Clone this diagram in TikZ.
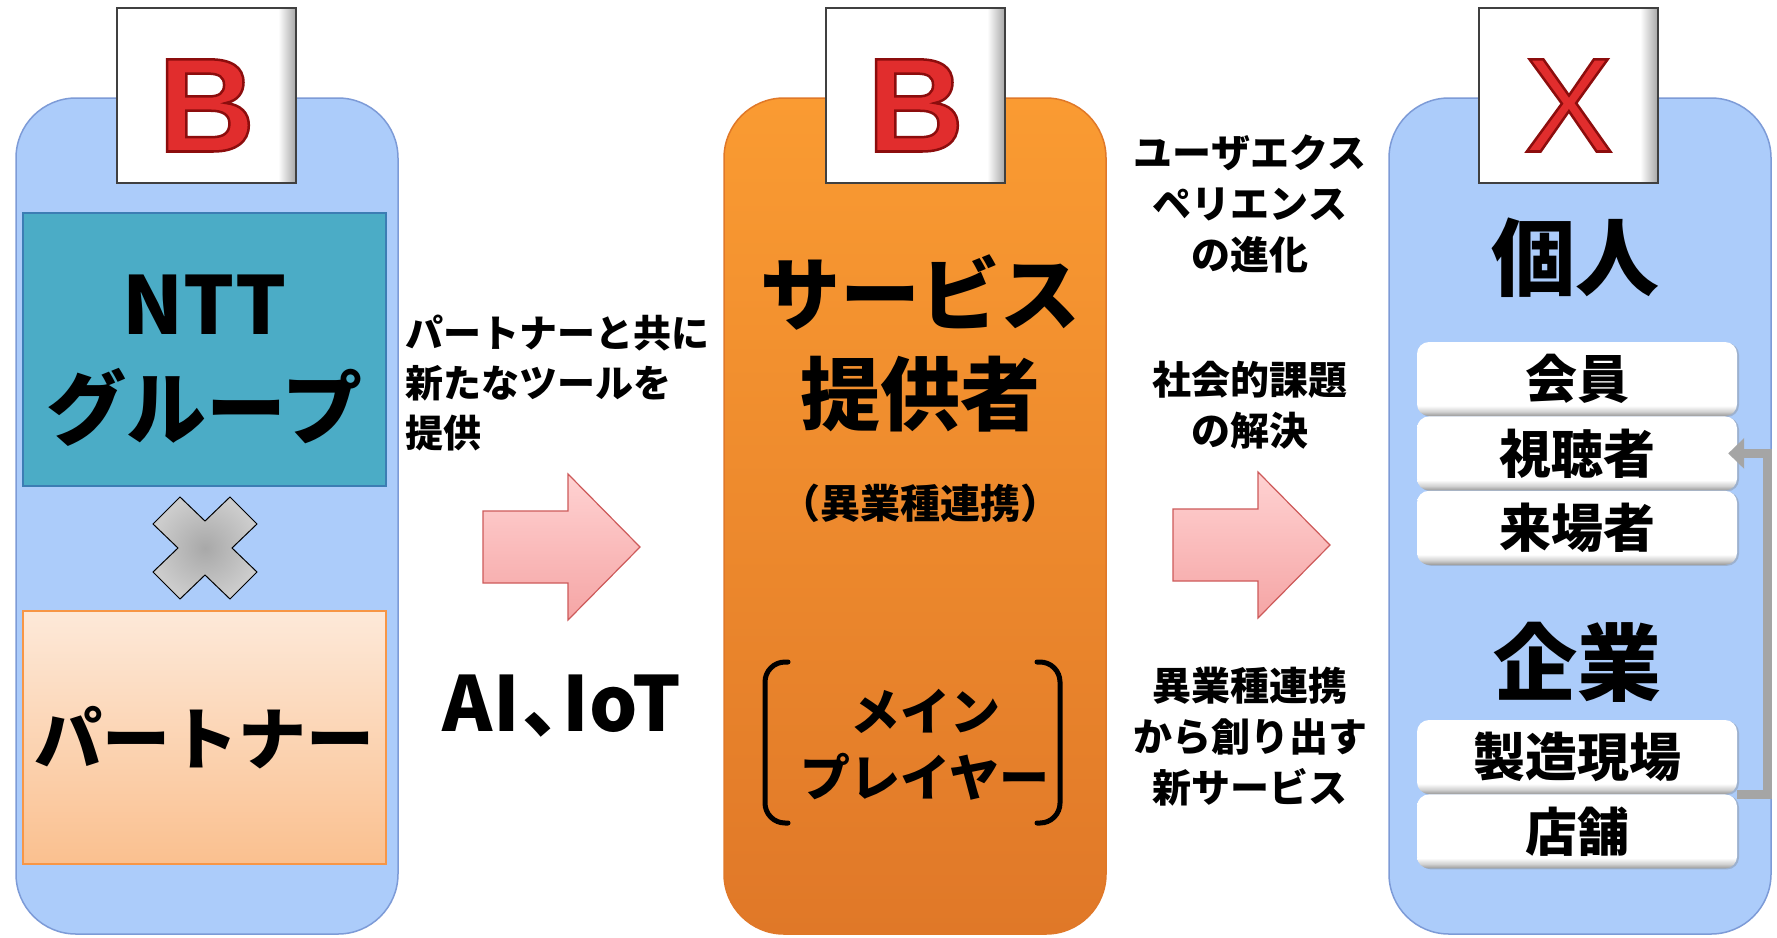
\documentclass[tikz,border=0pt]{standalone}
\usepackage{fontspec}
\setmainfont{Noto Sans CJK JP}
\newfontfamily\letterfont{Liberation Sans}
\usetikzlibrary{positioning,arrows.meta,shadows}
\definecolor{panelblue}{RGB}{172,204,250}
\definecolor{paneledge}{RGB}{125,155,215}
\definecolor{nttteal}{RGB}{75,172,198}
\definecolor{nttedge}{RGB}{60,125,180}
\definecolor{peachtop}{RGB}{253,233,217}
\definecolor{peachbot}{RGB}{250,192,143}
\definecolor{peachedge}{RGB}{247,150,70}
\definecolor{orangetop}{RGB}{250,155,50}
\definecolor{orangebot}{RGB}{224,120,40}
\definecolor{arrowpink}{RGB}{255,210,210}
\definecolor{arrowpinkdark}{RGB}{245,165,165}
\definecolor{arrowedge}{RGB}{205,90,90}
\definecolor{letterred}{RGB}{225,45,45}
\definecolor{linkgray}{RGB}{165,165,165}
\pgfdeclareverticalshading{boxshade}{100bp}{color(0bp)=(black!40); color(25bp)=(black!40); color(28bp)=(black!18); color(32bp)=(white); color(100bp)=(white)}
\pgfdeclarehorizontalshading{tagshade}{100bp}{color(0bp)=(white); color(70bp)=(white); color(75bp)=(black!35); color(100bp)=(black!35)}
\newcommand\redletter[1]{\special{pdf:literal direct 2 Tr 2.5 w 0.55 0.05 0.05 RG}#1\special{pdf:literal direct 0 Tr}}

\begin{document}
\begin{tikzpicture}[x=1pt, y=-1pt,
  panel/.style={rounded corners=60pt, minimum width=382pt, minimum height=836pt, inner sep=0pt, line width=1.5pt},
  tag/.style={shading=tagshade, draw=black!75, line width=1.2pt, minimum width=179pt, minimum height=175pt, inner sep=0pt, text height=112pt, text depth=0pt, font=\letterfont\fontsize{134}{134}\selectfont, text=letterred},
  item/.style={rounded corners=12pt, shading=boxshade, minimum width=320pt, minimum height=74pt, inner sep=0pt, drop shadow={shadow xshift=2pt, shadow yshift=-1pt, opacity=0.35}, font=\bfseries\fontsize{52}{52}\selectfont},
  heading/.style={font=\bfseries\fontsize{84}{84}\selectfont},
  note/.style={align=center, inner sep=0pt, font=\bfseries\fontsize{39}{51}\selectfont},
  bigarrow/.style={draw=arrowedge, line width=1.2pt, top color=arrowpink, bottom color=arrowpinkdark},
  link/.style={draw=linkgray, line width=9pt, -{Triangle[length=16pt,width=30pt]}},
  bracket/.style={line width=5pt, rounded corners=20pt, line cap=round}
]
\useasboundingbox (0,0) rectangle (1777,937);
\fill[white] (0,0) rectangle (1777,937);

\node[panel, fill=panelblue, draw=paneledge] (leftpanel) at (207,516) {};
\node[panel, top color=orangetop, bottom color=orangebot, draw=orangebot] (midpanel) at (915,516) {};
\node[panel, fill=panelblue, draw=paneledge] (rightpanel) at (1580,516) {};

\node[tag] (tagleft) at (206.5,95.5) {\redletter{\textbf{B}}};
\node[tag] (tagmid) at (915.5,95.5) {\redletter{\textbf{B}}};
\node[tag] (tagright) at (1568.5,95.5) {\redletter{X}};

\node[draw=nttedge, fill=nttteal, line width=1.5pt, minimum width=363pt, minimum height=273pt] (ntt) at (204.5,349.5) {};
\node[align=center, font=\bfseries\fontsize{80}{104}\selectfont] (ntttext) at (204.5,361) {NTT\\グループ};
\draw[shift={(205,548)}, inner color=black!34, outer color=black!20, draw=black, line width=1pt]
  (0,-27) -- (25,-51) -- (52,-24) -- (27,0) -- (52,24) -- (25,51) -- (0,27)
  -- (-25,51) -- (-52,24) -- (-27,0) -- (-52,-24) -- (-25,-51) -- cycle;
\node[draw=peachedge, top color=peachtop, bottom color=peachbot, line width=1.5pt, minimum width=363pt, minimum height=253pt, font=\bfseries\fontsize{68}{68}\selectfont] (partner) at (204.5,737.5) {パートナー};

\node[note, align=left, anchor=west, font=\bfseries\fontsize{38}{50}\selectfont] (tooltext) at (405,383) {パートナーと共に\\新たなツールを\\提供};
\foreach \ax/\ay in {483/547, 1173/545}
  \draw[bigarrow] (\ax,\ay-36) -- (\ax+85,\ay-36) -- (\ax+85,\ay-73) -- (\ax+157,\ay)
    -- (\ax+85,\ay+73) -- (\ax+85,\ay+36) -- (\ax,\ay+36) -- cycle;
\node[font=\bfseries\fontsize{76}{76}\selectfont] (aiiot) at (562,706) {AI\kern3pt、\kern-36pt IoT};

\node[align=center, font=\bfseries\fontsize{80}{100}\selectfont] (provider) at (920,343) {サービス\\提供者};
\node[font=\bfseries\fontsize{40}{40}\selectfont] (alliance) at (920,503) {（異業種連携）};
\node[align=center, font=\bfseries\fontsize{50}{66}\selectfont] (mainplayer) at (925,745) {メイン\\プレイヤー};
\draw[bracket] (788,662) -- (765,662) -- (765,823) -- (788,823);
\draw[bracket] (1037,662) -- (1060,662) -- (1060,823) -- (1037,823);

\node[note] (ux) at (1250,204) {ユーザエクス\\ペリエンス\\の進化};
\node[note] (social) at (1250,405) {社会的課題\\の解決};
\node[note] (newservice) at (1250,737) {異業種連携\\から創り出す\\新サービス};

\node[heading] (kojin) at (1575,258) {個人};
\node[item] (kaiin) at (1577,379) {会員};
\node[item, below=0pt of kaiin] (shichou) {視聴者};
\node[item, below=0pt of shichou] (raijou) {来場者};
\node[heading] (kigyou) at (1577,662) {企業};
\node[item] (seizo) at (1577,757) {製造現場};
\node[item, below=0pt of seizo] (tenpo) {店舗};
\draw[link] (seizo.south east) -- ++(30,0) |- ([xshift=-9pt]shichou.east);
\end{tikzpicture}
\end{document}
